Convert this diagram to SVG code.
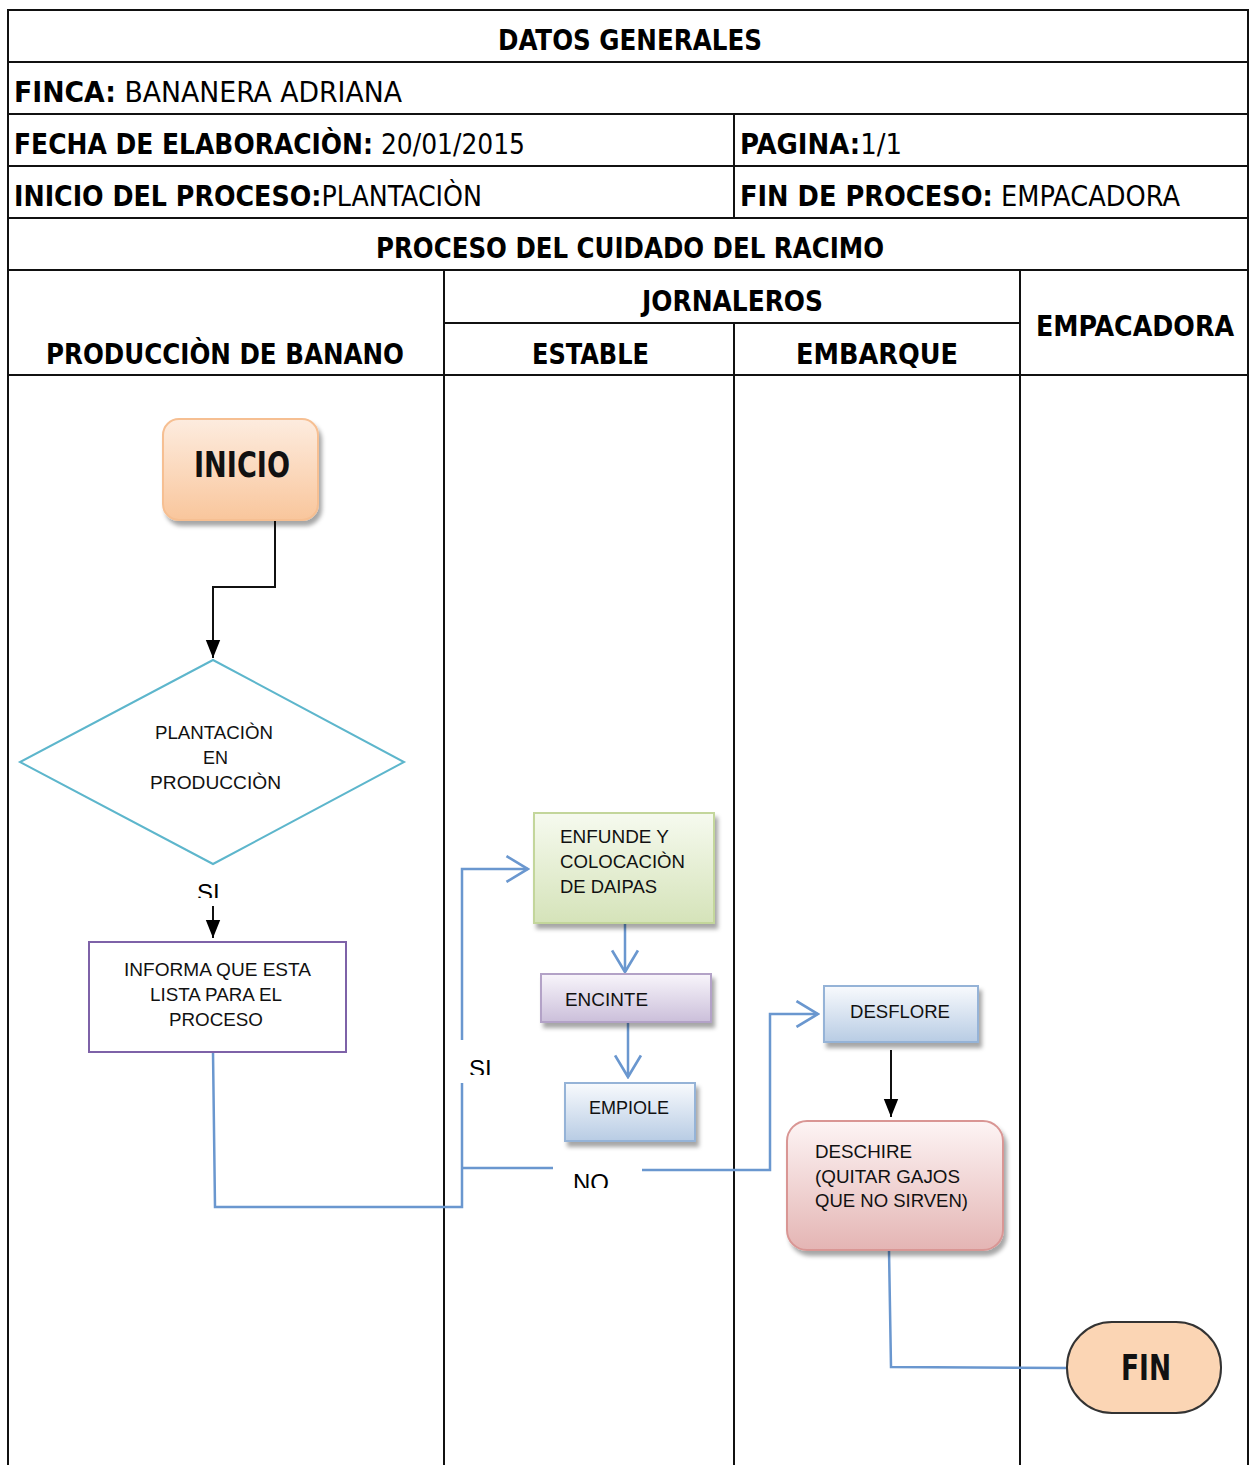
<svg xmlns="http://www.w3.org/2000/svg" width="1254" height="1465" viewBox="0 0 1254 1465">
<style>
.grid{stroke:#111;stroke-width:2;fill:none}
.hb{font-family:'Liberation Sans Narrow','DejaVu Sans Condensed','Liberation Sans',sans-serif;font-weight:bold;font-size:29px;fill:#000}
.n{font-weight:normal}
.nt{font-family:'Liberation Sans',Arial,sans-serif;font-size:19px;fill:#111}
.lbl{font-family:'Liberation Sans',Arial,sans-serif;font-size:24px;fill:#000}
.big{font-family:'Liberation Sans Narrow','DejaVu Sans Condensed','Liberation Sans',sans-serif;font-weight:bold;font-size:36px;fill:#111}
.blk{stroke:#111;stroke-width:2;fill:none}
.blu{stroke:#6a97cf;stroke-width:2.5;fill:none}
</style>
<defs>
<linearGradient id="gInicio" x1="0" y1="0" x2="0" y2="1"><stop offset="0" stop-color="#fdecdf"/><stop offset="1" stop-color="#f9c69c"/></linearGradient>
<linearGradient id="gGreen" x1="0" y1="0" x2="0" y2="1"><stop offset="0" stop-color="#f6faef"/><stop offset="1" stop-color="#d5e3b9"/></linearGradient>
<linearGradient id="gPurple" x1="0" y1="0" x2="0" y2="1"><stop offset="0" stop-color="#f8f5fb"/><stop offset="1" stop-color="#cbbfda"/></linearGradient>
<linearGradient id="gBlue" x1="0" y1="0" x2="0" y2="1"><stop offset="0" stop-color="#f8fafd"/><stop offset="1" stop-color="#b8cce4"/></linearGradient>
<linearGradient id="gRed" x1="0" y1="0" x2="0" y2="1"><stop offset="0" stop-color="#fdf4f4"/><stop offset="1" stop-color="#e4b5b4"/></linearGradient>
<filter id="sh" x="-10%" y="-10%" width="130%" height="140%"><feDropShadow dx="3" dy="5" stdDeviation="2" flood-color="#000" flood-opacity="0.35"/></filter>
<marker id="aBlk" markerUnits="userSpaceOnUse" markerWidth="18" markerHeight="24" refX="20" refY="8" orient="auto" viewBox="0 0 20 16"><path d="M0,0 L20,8 L0,16 Z" fill="#000"/></marker>
<marker id="aBlu" markerUnits="userSpaceOnUse" markerWidth="26" markerHeight="28" refX="22" refY="13" orient="auto" viewBox="0 0 24 26"><path d="M2,1 L22,13 L2,25" fill="none" stroke="#6a97cf" stroke-width="2.5"/></marker>
<clipPath id="c1"><rect x="180" y="870" width="60" height="28"/></clipPath>
<clipPath id="c2"><rect x="464" y="1045" width="50" height="30"/></clipPath>
<clipPath id="c3"><rect x="560" y="1160" width="70" height="28"/></clipPath>
</defs>

<g id="table">
<rect x="8" y="10" width="1240" height="1470" class="grid"/>
<line x1="8" y1="62" x2="1248" y2="62" class="grid"/>
<line x1="8" y1="114" x2="1248" y2="114" class="grid"/>
<line x1="8" y1="166" x2="1248" y2="166" class="grid"/>
<line x1="8" y1="218" x2="1248" y2="218" class="grid"/>
<line x1="8" y1="270" x2="1248" y2="270" class="grid"/>
<line x1="444" y1="323" x2="1020" y2="323" class="grid"/>
<line x1="8" y1="375" x2="1248" y2="375" class="grid"/>
<line x1="734" y1="114" x2="734" y2="218" class="grid"/>
<line x1="444" y1="270" x2="444" y2="1465" class="grid"/>
<line x1="734" y1="323" x2="734" y2="1465" class="grid"/>
<line x1="1020" y1="270" x2="1020" y2="1465" class="grid"/>

<text class="hb" x="498" y="50" textLength="264" lengthAdjust="spacingAndGlyphs">DATOS GENERALES</text>
<text class="hb" x="14" y="102" textLength="388" lengthAdjust="spacingAndGlyphs">FINCA:<tspan class="n"> BANANERA ADRIANA</tspan></text>
<text class="hb" x="14" y="154" textLength="511" lengthAdjust="spacingAndGlyphs">FECHA DE ELABORACIÒN:<tspan class="n"> 20/01/2015</tspan></text>
<text class="hb" x="740" y="154" textLength="162" lengthAdjust="spacingAndGlyphs">PAGINA:<tspan class="n">1/1</tspan></text>
<text class="hb" x="14" y="206" textLength="468" lengthAdjust="spacingAndGlyphs">INICIO DEL PROCESO:<tspan class="n">PLANTACIÒN</tspan></text>
<text class="hb" x="740" y="206" textLength="440" lengthAdjust="spacingAndGlyphs">FIN DE PROCESO:<tspan class="n"> EMPACADORA</tspan></text>
<text class="hb" x="376" y="258" textLength="508" lengthAdjust="spacingAndGlyphs">PROCESO DEL CUIDADO DEL RACIMO</text>
<text class="hb" x="642" y="311" textLength="181" lengthAdjust="spacingAndGlyphs">JORNALEROS</text>
<text class="hb" x="46" y="364" textLength="358" lengthAdjust="spacingAndGlyphs">PRODUCCIÒN DE BANANO</text>
<text class="hb" x="532" y="364" textLength="117" lengthAdjust="spacingAndGlyphs">ESTABLE</text>
<text class="hb" x="796" y="364" textLength="162" lengthAdjust="spacingAndGlyphs">EMBARQUE</text>
<text class="hb" x="1036" y="336" textLength="198" lengthAdjust="spacingAndGlyphs">EMPACADORA</text>
</g>

<g id="connectors">
<polyline points="275,520 275,587 213,587 213,658" class="blk" marker-end="url(#aBlk)"/>
<line x1="213" y1="906" x2="213" y2="938" class="blk" marker-end="url(#aBlk)"/>
<polyline points="213,1052 215,1207 462,1207 462,1083" class="blu"/>
<polyline points="462,1040 462,869 528,869" class="blu" marker-end="url(#aBlu)"/>
<line x1="462" y1="1168" x2="553" y2="1168" class="blu"/>
<polyline points="642,1170 770,1170 770,1014 818,1014" class="blu" marker-end="url(#aBlu)"/>
<line x1="625" y1="924" x2="625" y2="972" class="blu" marker-end="url(#aBlu)"/>
<line x1="628" y1="1023" x2="628" y2="1077" class="blu" marker-end="url(#aBlu)"/>
<line x1="891" y1="1050" x2="891" y2="1117" class="blk" marker-end="url(#aBlk)"/>
<polyline points="889,1250 891,1367 1068,1368" class="blu"/>
<text class="lbl" x="197" y="901" clip-path="url(#c1)">SI</text>
<text class="lbl" x="469" y="1077" clip-path="url(#c2)">SI</text>
<text class="lbl" x="573" y="1191" clip-path="url(#c3)">NO</text>
</g>

<g id="inicio">
<rect x="163" y="419" width="155" height="101" rx="16" fill="url(#gInicio)" stroke="#f6bf92" stroke-width="2" filter="url(#sh)"/>
<text class="big" x="242" y="477" text-anchor="middle" textLength="96" lengthAdjust="spacingAndGlyphs">INICIO</text>
</g>

<g id="decision">
<polygon points="213,660 404,762 213,864 20,762" fill="#fff" stroke="#5db6cc" stroke-width="2"/>
<text class="nt" x="155" y="739" textLength="118" lengthAdjust="spacingAndGlyphs">PLANTACIÒN</text>
<text class="nt" x="203" y="764" textLength="25" lengthAdjust="spacingAndGlyphs">EN</text>
<text class="nt" x="150" y="789" textLength="131" lengthAdjust="spacingAndGlyphs">PRODUCCIÒN</text>
</g>

<g id="informa">
<rect x="89" y="942" width="257" height="110" fill="#fff" stroke="#7e62a8" stroke-width="2"/>
<text class="nt" x="124" y="976" textLength="187" lengthAdjust="spacingAndGlyphs">INFORMA QUE ESTA</text>
<text class="nt" x="150" y="1001" textLength="132" lengthAdjust="spacingAndGlyphs">LISTA PARA EL</text>
<text class="nt" x="169" y="1026" textLength="94" lengthAdjust="spacingAndGlyphs">PROCESO</text>
</g>

<g id="enfunde">
<rect x="534" y="813" width="180" height="110" fill="url(#gGreen)" stroke="#c3d69b" stroke-width="2" filter="url(#sh)"/>
<text class="nt" x="560" y="843" textLength="109" lengthAdjust="spacingAndGlyphs">ENFUNDE Y</text>
<text class="nt" x="560" y="868" textLength="125" lengthAdjust="spacingAndGlyphs">COLOCACIÒN</text>
<text class="nt" x="560" y="893" textLength="97" lengthAdjust="spacingAndGlyphs">DE DAIPAS</text>
</g>

<g id="encinte">
<rect x="541" y="974" width="170" height="48" fill="url(#gPurple)" stroke="#b3a2c7" stroke-width="2" filter="url(#sh)"/>
<text class="nt" x="565" y="1006" textLength="83" lengthAdjust="spacingAndGlyphs">ENCINTE</text>
</g>

<g id="empiole">
<rect x="565" y="1083" width="130" height="58" fill="url(#gBlue)" stroke="#95b3d7" stroke-width="2" filter="url(#sh)"/>
<text class="nt" x="589" y="1114" textLength="80" lengthAdjust="spacingAndGlyphs">EMPIOLE</text>
</g>

<g id="desflore">
<rect x="824" y="986" width="154" height="56" fill="url(#gBlue)" stroke="#95b3d7" stroke-width="2" filter="url(#sh)"/>
<text class="nt" x="850" y="1018" textLength="100" lengthAdjust="spacingAndGlyphs">DESFLORE</text>
</g>

<g id="deschire">
<rect x="787" y="1121" width="216" height="129" rx="20" fill="url(#gRed)" stroke="#d99694" stroke-width="2" filter="url(#sh)"/>
<text class="nt" x="815" y="1158" textLength="97" lengthAdjust="spacingAndGlyphs">DESCHIRE</text>
<text class="nt" x="815" y="1183" textLength="145" lengthAdjust="spacingAndGlyphs">(QUITAR GAJOS</text>
<text class="nt" x="815" y="1207" textLength="153" lengthAdjust="spacingAndGlyphs">QUE NO SIRVEN)</text>
</g>

<g id="fin">
<rect x="1067" y="1322" width="154" height="91" rx="45" fill="#fbd5b4" stroke="#333" stroke-width="2"/>
<text class="big" x="1146" y="1380" text-anchor="middle" textLength="50" lengthAdjust="spacingAndGlyphs">FIN</text>
</g>
</svg>
